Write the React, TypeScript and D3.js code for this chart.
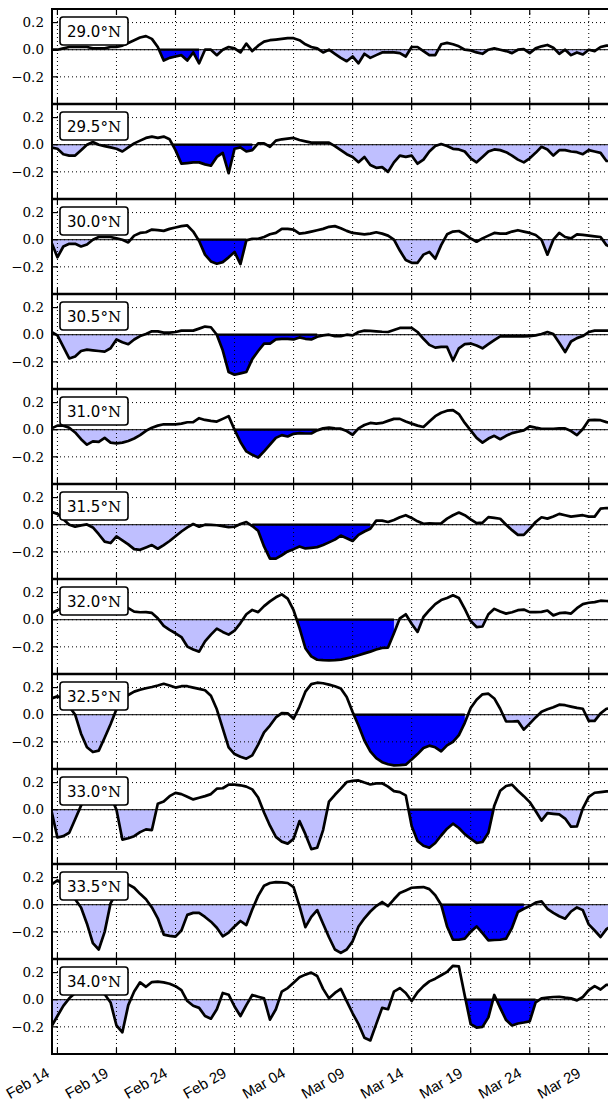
import { useEffect, useRef } from 'react'
import * as d3 from 'd3'

// panel labels, top to bottom
const latitudes = ['29.0', '29.5', '30.0', '30.5', '31.0', '31.5', '32.0', '32.5', '33.0', '33.5', '34.0']

// anomalies, one value every 12 h, first value half a day before Feb 14
const lat290 = [
  0.00, 0.00, 0.01, 0.02, 0.02, 0.02, 0.02, 0.01, 0.01, 0.01,
  0.02, 0.02, 0.03, 0.05, 0.07, 0.09, 0.10, 0.08, 0.02, -0.08,
  -0.06, -0.05, -0.04, -0.08, -0.02, -0.10, 0.00, 0.00, -0.04, 0.00,
  0.02, 0.01, -0.02, 0.045, -0.01, 0.03, 0.06, 0.07, 0.075, 0.08,
  0.085, 0.085, 0.07, 0.04, 0.02, 0.01, -0.02, 0.00, -0.03, -0.06,
  -0.085, -0.05, -0.10, -0.03, -0.06, -0.04, -0.02, -0.02, -0.02, -0.025,
  -0.05, 0.02, 0.02, -0.01, -0.04, -0.04, 0.04, 0.05, 0.04, 0.025,
  0.00, -0.005, -0.02, -0.03, 0.00, 0.01, 0.00, -0.01, -0.025, 0.00,
  0.005, -0.025, 0.01, 0.025, 0.035, 0.015, -0.03, 0.00, -0.04, -0.02,
  -0.035, 0.00, -0.01, 0.02, 0.03, 0.03,
]
const lat295 = [
  -0.02, -0.03, -0.07, -0.08, -0.08, -0.04, 0.00, 0.02, 0.00, -0.01,
  -0.02, -0.03, -0.05, -0.02, 0.01, 0.03, 0.05, 0.06, 0.05, 0.06,
  0.04, -0.04, -0.14, -0.135, -0.13, -0.13, -0.145, -0.155, -0.09, -0.06,
  -0.21, -0.03, -0.02, -0.05, -0.04, 0.01, 0.01, -0.015, 0.03, 0.04,
  0.045, 0.05, 0.035, 0.025, 0.015, 0.015, 0.015, 0.015, -0.01, -0.04,
  -0.07, -0.09, -0.13, -0.09, -0.15, -0.17, -0.165, -0.20, -0.13, -0.08,
  -0.09, -0.08, -0.14, -0.11, -0.05, -0.01, 0.005, -0.01, -0.03, -0.035,
  -0.05, -0.10, -0.13, -0.09, -0.05, -0.035, -0.04, -0.055, -0.08, -0.11,
  -0.13, -0.10, -0.06, -0.015, -0.035, -0.08, -0.04, -0.04, -0.05, -0.055,
  -0.07, -0.04, -0.05, -0.06, -0.12, -0.12,
]
const lat300 = [
  -0.02, -0.13, -0.05, -0.03, -0.03, -0.05, -0.035, 0.00, 0.02, 0.02,
  0.02, 0.01, 0.00, -0.02, 0.03, 0.05, 0.055, 0.075, 0.07, 0.065,
  0.08, 0.09, 0.10, 0.105, 0.06, -0.01, -0.11, -0.16, -0.177, -0.165,
  -0.13, -0.09, -0.18, -0.005, 0.007, 0.007, 0.02, 0.04, 0.05, 0.08,
  0.08, 0.075, 0.045, 0.05, 0.06, 0.07, 0.08, 0.095, 0.10, 0.085,
  0.065, 0.05, 0.045, 0.04, 0.045, 0.055, 0.045, 0.03, 0.00, -0.08,
  -0.15, -0.17, -0.17, -0.11, -0.09, -0.14, -0.04, 0.04, 0.06, 0.064,
  0.04, 0.01, -0.015, 0.01, 0.03, 0.05, 0.045, 0.045, 0.06, 0.07,
  0.06, 0.05, 0.035, 0.00, -0.11, 0.00, 0.05, 0.02, 0.01, 0.04,
  0.035, 0.03, 0.025, 0.02, -0.04, -0.06,
]
const lat305 = [
  0.02, -0.005, -0.09, -0.175, -0.16, -0.12, -0.11, -0.115, -0.12, -0.125,
  -0.10, -0.035, -0.055, -0.07, -0.035, -0.01, 0.005, 0.025, 0.025, 0.015,
  0.015, 0.02, 0.03, 0.03, 0.03, 0.045, 0.06, 0.055, 0.00, -0.115,
  -0.275, -0.295, -0.285, -0.275, -0.18, -0.12, -0.066, -0.066, -0.035, -0.03,
  -0.03, -0.035, -0.02, -0.03, -0.035, -0.015, -0.005, 0.00, -0.01, -0.01,
  0.00, -0.005, 0.02, 0.03, 0.028, 0.025, 0.022, 0.02, 0.035, 0.05,
  0.05, 0.05, 0.02, -0.03, -0.075, -0.095, -0.09, -0.09, -0.19, -0.10,
  -0.07, -0.065, -0.08, -0.10, -0.07, -0.04, -0.012, -0.012, -0.012, -0.012,
  -0.012, -0.01, -0.005, 0.005, 0.02, 0.005, -0.06, -0.128, -0.05, -0.025,
  -0.01, 0.02, 0.03, 0.03, 0.03, 0.03,
]
const lat310 = [
  0.01, 0.03, 0.03, 0.015, -0.02, -0.07, -0.11, -0.086, -0.09, -0.06,
  -0.095, -0.10, -0.095, -0.083, -0.065, -0.04, -0.008, 0.015, 0.03, 0.04,
  0.04, 0.04, 0.045, 0.055, 0.056, 0.085, 0.072, 0.065, 0.06, 0.08,
  0.10, 0.00, -0.09, -0.16, -0.185, -0.205, -0.16, -0.11, -0.06, -0.04,
  -0.05, -0.03, -0.025, -0.028, -0.028, -0.005, 0.01, 0.015, 0.01, 0.008,
  -0.01, -0.037, 0.01, 0.035, 0.05, 0.045, 0.05, 0.065, 0.08, 0.08,
  0.06, 0.045, 0.03, 0.02, 0.06, 0.10, 0.125, 0.14, 0.145, 0.115,
  0.05, -0.005, -0.06, -0.095, -0.065, -0.045, -0.07, -0.045, -0.025, -0.015,
  -0.005, 0.025, 0.015, 0.007, 0.007, 0.007, 0.01, 0.01, -0.01, -0.04,
  0.005, 0.07, 0.073, 0.07, 0.056, 0.05,
]
const lat315 = [
  0.095, 0.08, 0.04, 0.00, -0.015, -0.005, 0.002, -0.02, -0.07, -0.125,
  -0.135, -0.086, -0.115, -0.145, -0.18, -0.185, -0.168, -0.15, -0.177, -0.15,
  -0.12, -0.085, -0.05, -0.02, 0.005, -0.015, 0.00, -0.001, -0.004, -0.01,
  -0.018, -0.015, 0.005, 0.02, -0.01, -0.045, -0.16, -0.25, -0.25, -0.225,
  -0.197, -0.18, -0.16, -0.175, -0.17, -0.165, -0.15, -0.13, -0.11, -0.08,
  -0.10, -0.12, -0.075, -0.05, -0.03, 0.03, 0.03, 0.02, 0.035, 0.055,
  0.07, 0.05, 0.025, 0.007, 0.01, 0.008, 0.01, 0.045, 0.07, 0.09,
  0.07, 0.04, 0.012, 0.015, 0.056, 0.05, 0.044, 0.00, -0.04, -0.075,
  -0.075, -0.03, 0.02, 0.055, 0.045, 0.06, 0.08, 0.07, 0.06, 0.065,
  0.07, 0.06, 0.06, 0.118, 0.123, 0.12,
]
const lat320 = [
  0.05, 0.07, 0.09, 0.11, 0.12, 0.13, 0.13, 0.12, 0.12, 0.11,
  0.11, 0.10, 0.095, 0.085, 0.06, 0.055, 0.056, 0.05, 0.01, -0.045,
  -0.075, -0.10, -0.128, -0.198, -0.22, -0.235, -0.16, -0.11, -0.066, -0.09,
  -0.11, -0.08, -0.025, 0.04, 0.072, 0.056, 0.10, 0.135, 0.165, 0.187,
  0.155, 0.07, -0.06, -0.21, -0.27, -0.295, -0.298, -0.30, -0.298, -0.294,
  -0.285, -0.275, -0.262, -0.248, -0.235, -0.22, -0.208, -0.205, -0.10, 0.01,
  0.04, -0.03, -0.09, 0.02, 0.07, 0.115, 0.145, 0.16, 0.18, 0.16,
  0.08, -0.01, -0.054, -0.05, 0.04, 0.08, 0.06, 0.045, 0.055, 0.07,
  0.075, 0.056, 0.056, 0.058, 0.068, 0.032, 0.048, 0.052, 0.045, 0.085,
  0.115, 0.125, 0.13, 0.14, 0.138, 0.135,
]
const lat325 = [
  0.12, 0.135, 0.12, 0.06, 0.00, -0.14, -0.24, -0.275, -0.265, -0.17,
  -0.07, 0.04, 0.11, 0.145, 0.17, 0.184, 0.195, 0.204, 0.215, 0.228,
  0.215, 0.20, 0.21, 0.21, 0.20, 0.19, 0.18, 0.14, 0.04, -0.10,
  -0.24, -0.29, -0.31, -0.324, -0.30, -0.22, -0.13, -0.08, -0.02, 0.012,
  0.01, -0.03, 0.06, 0.17, 0.225, 0.236, 0.232, 0.222, 0.21, 0.193,
  0.13, 0.02, -0.08, -0.19, -0.27, -0.32, -0.35, -0.365, -0.373, -0.372,
  -0.368, -0.33, -0.29, -0.245, -0.228, -0.24, -0.27, -0.226, -0.20, -0.15,
  -0.06, 0.05, 0.11, 0.15, 0.155, 0.12, 0.044, -0.05, -0.05, -0.047,
  -0.11, -0.066, -0.02, 0.022, 0.04, 0.055, 0.074, 0.07, 0.06, 0.05,
  0.044, -0.045, -0.045, 0.01, 0.044, 0.05,
]
const lat330 = [
  -0.01, -0.205, -0.195, -0.17, -0.07, 0.03, 0.10, 0.15, 0.17, 0.15,
  0.10, 0.00, -0.22, -0.21, -0.195, -0.165, -0.145, -0.15, 0.044, 0.06,
  0.10, 0.124, 0.115, 0.095, 0.076, 0.088, 0.10, 0.115, 0.155, 0.158,
  0.185, 0.185, 0.18, 0.17, 0.15, 0.09, -0.02, -0.118, -0.20, -0.235,
  -0.25, -0.215, -0.084, -0.18, -0.29, -0.28, -0.15, 0.06, 0.11, 0.155,
  0.204, 0.213, 0.216, 0.20, 0.186, 0.194, 0.195, 0.17, 0.137, 0.13,
  0.106, -0.12, -0.23, -0.266, -0.28, -0.245, -0.19, -0.14, -0.103, -0.135,
  -0.18, -0.214, -0.245, -0.238, -0.17, 0.03, 0.14, 0.175, 0.185, 0.14,
  0.10, 0.056, -0.01, -0.08, -0.025, -0.03, -0.035, -0.065, -0.125, -0.123,
  0.01, 0.095, 0.125, 0.13, 0.135, 0.135,
]
const lat335 = [
  0.15, 0.18, 0.15, 0.10, 0.04, -0.02, -0.14, -0.283, -0.33, -0.20,
  0.01, 0.09, 0.14, 0.15, 0.125, 0.08, 0.04, -0.02, -0.10, -0.22,
  -0.23, -0.235, -0.19, -0.075, -0.06, -0.06, -0.09, -0.125, -0.17, -0.233,
  -0.205, -0.16, -0.12, -0.15, -0.035, 0.065, 0.14, 0.16, 0.167, 0.165,
  0.16, 0.13, -0.01, -0.165, -0.09, -0.04, -0.14, -0.24, -0.33, -0.355,
  -0.33, -0.27, -0.16, -0.10, -0.05, -0.01, 0.02, -0.01, 0.04, 0.086,
  0.105, 0.125, 0.128, 0.13, 0.115, 0.07, 0.00, -0.16, -0.258, -0.258,
  -0.25, -0.20, -0.16, -0.21, -0.263, -0.26, -0.258, -0.25, -0.17, -0.054,
  -0.03, -0.01, 0.015, 0.025, -0.03, -0.06, -0.085, -0.103, -0.05, -0.02,
  -0.04, -0.145, -0.19, -0.238, -0.18, -0.15,
]
const lat340 = [
  -0.197, -0.12, -0.045, 0.01, 0.05, 0.08, 0.09, 0.085, 0.07, 0.04,
  -0.02, -0.19, -0.24, -0.04, 0.06, 0.128, 0.095, 0.13, 0.133, 0.128,
  0.118, 0.10, 0.07, -0.01, -0.045, -0.06, -0.12, -0.14, -0.07, 0.05,
  0.037, -0.05, -0.12, -0.04, 0.035, 0.022, 0.01, -0.147, -0.07, 0.06,
  0.086, 0.125, 0.165, 0.185, 0.20, 0.175, 0.08, 0.01, 0.05, 0.08,
  -0.01, -0.10, -0.18, -0.28, -0.30, -0.18, -0.06, -0.07, 0.06, 0.086,
  0.05, -0.01, 0.055, 0.10, 0.135, 0.155, 0.18, 0.205, 0.25, 0.245,
  0.03, -0.18, -0.205, -0.20, -0.13, 0.035, -0.06, -0.15, -0.19, -0.175,
  -0.168, -0.16, -0.02, 0.01, 0.015, 0.02, 0.022, 0.015, 0.01, -0.005,
  0.02, 0.07, 0.10, 0.075, 0.11, 0.11,
]
const seriesList = [lat290, lat295, lat300, lat305, lat310, lat315, lat320, lat325, lat330, lat335, lat340]

// sample index where the highlighted event starts / ends in each panel
const eventStart = [18, 20, 24, 28, 31, 34, 41, 51, 60, 66, 70]
const eventEnd = [25, 34, 33, 45, 45, 54, 58, 70, 75, 80, 82]

// x ticks in days after Feb 14
const tickDays = [0, 5, 10, 15, 20, 25, 30, 35, 40, 45]
const tickLabels = ['Feb 14', 'Feb 19', 'Feb 24', 'Feb 29', 'Mar 04', 'Mar 09', 'Mar 14', 'Mar 19', 'Mar 24', 'Mar 29']
const yTicks = [0.2, 0.0, -0.2]

function App() {
  const ref = useRef<SVGSVGElement>(null)
  useEffect(() => {
    const width = 608, height = 1101
    const left = 52, top = 9, panelH = 95
    const svg = d3.select(ref.current).attr('width', width).attr('height', height)
    svg.selectAll('*').remove()
    const defs = svg.append('defs')

    const x = d3.scaleLinear().domain([-0.46, 46.63]).range([left, width])

    seriesList.forEach((vals, p) => {
      const y0 = top + p * panelH
      const y = d3.scaleLinear().domain([-0.4, 0.3]).range([y0 + panelH, y0])
      const pts: [number, number][] = vals.map((v, i) => [-0.5 + 0.5 * i, v])
      const g = svg.append('g')

      defs.append('clipPath').attr('id', `box${p}`).append('rect')
        .attr('x', left).attr('y', y0).attr('width', width - left).attr('height', panelH)
      defs.append('clipPath').attr('id', `neg${p}`).append('rect')
        .attr('x', left).attr('y', y(0)).attr('width', width - left).attr('height', y0 + panelH - y(0))
      const a = eventStart[p], b = eventEnd[p]
      const xa = x(pts[a][0]), xb = x(pts[b][0])
      defs.append('clipPath').attr('id', `evt${p}`).append('rect')
        .attr('x', xa).attr('y', y(0)).attr('width', xb - xa).attr('height', y0 + panelH - y(0))

      const area = d3.area<[number, number]>().x(d => x(d[0])).y0(y(0)).y1(d => y(d[1]))
      const line = d3.line<[number, number]>().x(d => x(d[0])).y(d => y(d[1]))

      // negative part light, event part dark
      g.append('path').attr('clip-path', `url(#neg${p})`).attr('d', area(pts)).attr('fill', '#bfbfff')
      g.append('path').attr('clip-path', `url(#evt${p})`).attr('d', area(pts)).attr('fill', '#0000ff')

      // dotted grid
      g.selectAll('.gx').data(tickDays).enter().append('line')
        .attr('x1', d => x(d)).attr('x2', d => x(d)).attr('y1', y0).attr('y2', y0 + panelH)
        .attr('stroke', '#000').attr('stroke-width', 1).attr('stroke-dasharray', '1,3')
      g.selectAll('.gy').data(yTicks).enter().append('line')
        .attr('x1', left).attr('x2', width).attr('y1', d => y(d)).attr('y2', d => y(d))
        .attr('stroke', '#000').attr('stroke-width', 1).attr('stroke-dasharray', '1,3')

      // zero line
      g.append('line').attr('x1', left).attr('x2', width).attr('y1', y(0)).attr('y2', y(0))
        .attr('stroke', '#000').attr('stroke-width', 1)

      // edge of the event fill along zero, between its first and last crossing
      let first = -1, last = -1
      for (let i = a; i <= b; i++) if (pts[i][1] < 0) { if (first < 0) first = i; last = i }
      if (first >= 0) {
        const cross = (i: number, j: number) => {
          const [t1, v1] = pts[i], [t2, v2] = pts[j]
          return v2 >= 0 ? t1 + (t2 - t1) * (v1 / (v1 - v2)) : t1
        }
        const ts = first > a ? cross(first, first - 1) : pts[first][0]
        const te = last < b ? cross(last, last + 1) : pts[last][0]
        g.append('line').attr('x1', x(ts)).attr('x2', x(te)).attr('y1', y(0)).attr('y2', y(0))
          .attr('stroke', '#000').attr('stroke-width', 2.2)
      }

      g.append('path').attr('clip-path', `url(#box${p})`).attr('d', line(pts))
        .attr('fill', 'none').attr('stroke', '#000').attr('stroke-width', 2.7)
        .attr('stroke-linejoin', 'round')

      // inward ticks
      g.selectAll('.tt').data(tickDays).enter().append('line')
        .attr('x1', d => x(d)).attr('x2', d => x(d)).attr('y1', y0).attr('y2', y0 + 6)
        .attr('stroke', '#000').attr('stroke-width', 1.2)
      g.selectAll('.tb').data(tickDays).enter().append('line')
        .attr('x1', d => x(d)).attr('x2', d => x(d)).attr('y1', y0 + panelH - 6).attr('y2', y0 + panelH)
        .attr('stroke', '#000').attr('stroke-width', 1.2)
      g.selectAll('.ty').data(yTicks).enter().append('line')
        .attr('x1', left).attr('x2', left + 6).attr('y1', d => y(d)).attr('y2', d => y(d))
        .attr('stroke', '#000').attr('stroke-width', 1.2)

      g.selectAll('.yl').data(yTicks).enter().append('text')
        .attr('x', left - 8).attr('y', d => y(d)).attr('dy', '0.35em')
        .attr('text-anchor', 'end')
        .style('font', '13.5px "DejaVu Serif"')
        .text(d => d3.format('.1f')(d).replace('-', '\u2212'))

      // frame
      g.append('line').attr('x1', left).attr('x2', left).attr('y1', y0).attr('y2', y0 + panelH)
        .attr('stroke', '#000').attr('stroke-width', 2)
      g.append('line').attr('x1', left - 1).attr('x2', width).attr('y1', y0).attr('y2', y0)
        .attr('stroke', '#000').attr('stroke-width', p === 0 ? 2 : 2.6)
      if (p === seriesList.length - 1) {
        g.append('line').attr('x1', left - 1).attr('x2', width).attr('y1', y0 + panelH).attr('y2', y0 + panelH)
          .attr('stroke', '#000').attr('stroke-width', 2)
      }

      // latitude label
      g.append('rect').attr('x', 60).attr('y', y0 + 8).attr('width', 68).attr('height', 28)
        .attr('rx', 3).attr('fill', '#fff').attr('stroke', '#000').attr('stroke-width', 1.6)
      const lab = g.append('text').attr('x', 67).attr('y', y0 + 27.5)
      lab.append('tspan').style('font', '15px "DejaVu Sans"').text(latitudes[p])
      lab.append('tspan').style('font', '15px "DejaVu Serif"').text('\u00b0N')
    })

    // bottom date labels
    const base = top + seriesList.length * panelH
    svg.selectAll('.xl').data(tickDays).enter().append('text')
      .attr('transform', d => `translate(${x(d) - 7},${base + 22}) rotate(-30)`)
      .attr('text-anchor', 'end')
      .style('font', '15px "Liberation Sans"')
      .text((d, i) => tickLabels[i])
  }, [])

  return (
    <div style={{ position: 'absolute', left: 0, top: 0 }}>
      <svg ref={ref} style={{ display: 'block' }}></svg>
    </div>
  )
}

export default App
